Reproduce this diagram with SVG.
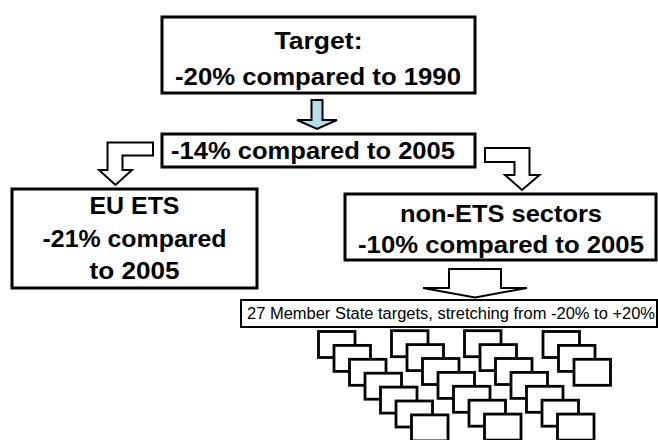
<svg xmlns="http://www.w3.org/2000/svg" width="658" height="440" viewBox="0 0 658 440">
<style>
.box{fill:#fff;stroke:#000;stroke-width:3}
.mbox{fill:#fff;stroke:#000;stroke-width:2.8}
.arr{fill:#fff;stroke:#000;stroke-width:2;stroke-linejoin:miter}
.t{font-family:"Liberation Sans",Arial,sans-serif;font-weight:bold;font-size:23px;fill:#000}
.s{font-family:"Liberation Sans",Arial,sans-serif;font-size:16px;fill:#000}
</style>
<defs>
<rect id="mb" width="36.5" height="26" class="mbox"/>
</defs>
<rect width="658" height="440" fill="#fff"/>
<g id="target">
<rect class="box" x="162" y="17" width="313" height="76"/>
<text class="t" x="318.5" y="49" text-anchor="middle" textLength="88" lengthAdjust="spacingAndGlyphs">Target:</text>
<text class="t" x="318" y="85" text-anchor="middle" textLength="286" lengthAdjust="spacingAndGlyphs">-20% compared to 1990</text>
</g>
<g id="total">
<rect class="box" x="162" y="134" width="313" height="33"/>
<text class="t" x="171" y="159" textLength="284" lengthAdjust="spacingAndGlyphs">-14% compared to 2005</text>
</g>
<g id="euets">
<rect class="box" x="12" y="189" width="245" height="99"/>
<text class="t" x="134.5" y="214" text-anchor="middle" textLength="90" lengthAdjust="spacingAndGlyphs">EU ETS</text>
<text class="t" x="134.5" y="247" text-anchor="middle" textLength="184" lengthAdjust="spacingAndGlyphs">-21% compared</text>
<text class="t" x="134.5" y="279" text-anchor="middle" textLength="90" lengthAdjust="spacingAndGlyphs">to 2005</text>
</g>
<g id="nonets">
<rect class="box" x="345" y="194" width="311" height="66"/>
<text class="t" x="501" y="222" text-anchor="middle" textLength="202" lengthAdjust="spacingAndGlyphs">non-ETS sectors</text>
<text class="t" x="501" y="253" text-anchor="middle" textLength="286" lengthAdjust="spacingAndGlyphs">-10% compared to 2005</text>
</g>
<g id="memberstates">
<rect x="241" y="300" width="416" height="27" fill="#fff" stroke="#000" stroke-width="2"/>
<text class="s" x="247" y="319" textLength="408" lengthAdjust="spacingAndGlyphs">27 Member State targets, stretching from -20% to +20%</text>
</g>
<g id="connectors">
<polygon points="311.5,100 322.5,100 322.5,120 337,120 317,129 297,120 311.5,120" fill="#b7dee8" stroke="#000" stroke-width="2"/>
<polygon class="arr" points="153,142.5 107.5,142.5 107.5,170 99,170 115.5,185 132,170 122.5,170 122.5,155.5 153,155.5"/>
<polygon class="arr" points="485,148 529.5,148 529.5,175 539.5,175 522,190 505,175 514.5,175 514.5,162 485,162"/>
<polygon class="arr" points="449,269 501,269 501,288 527,288 475,297.5 423,288 449,288"/>
</g>
<g id="ms-targets">
<use href="#mb" x="318.5" y="331.5"/>
<use href="#mb" x="334" y="345.4"/>
<use href="#mb" x="349.5" y="359.3"/>
<use href="#mb" x="365" y="373.2"/>
<use href="#mb" x="380.5" y="387.1"/>
<use href="#mb" x="396" y="401"/>
<use href="#mb" x="411.5" y="414.9"/>
<use href="#mb" x="391.5" y="330.7"/>
<use href="#mb" x="407" y="344.6"/>
<use href="#mb" x="422.5" y="358.5"/>
<use href="#mb" x="438" y="372.4"/>
<use href="#mb" x="453.5" y="386.3"/>
<use href="#mb" x="469" y="400.2"/>
<use href="#mb" x="484.5" y="414.1"/>
<use href="#mb" x="464.5" y="330.7"/>
<use href="#mb" x="480" y="344.6"/>
<use href="#mb" x="495.5" y="358.5"/>
<use href="#mb" x="511" y="372.4"/>
<use href="#mb" x="526.5" y="386.3"/>
<use href="#mb" x="542" y="400.2"/>
<use href="#mb" x="557.5" y="414.1"/>
<use href="#mb" x="543" y="331.5"/>
<use href="#mb" x="558.5" y="345.4"/>
<use href="#mb" x="574" y="359.3"/>
</g>
</svg>
